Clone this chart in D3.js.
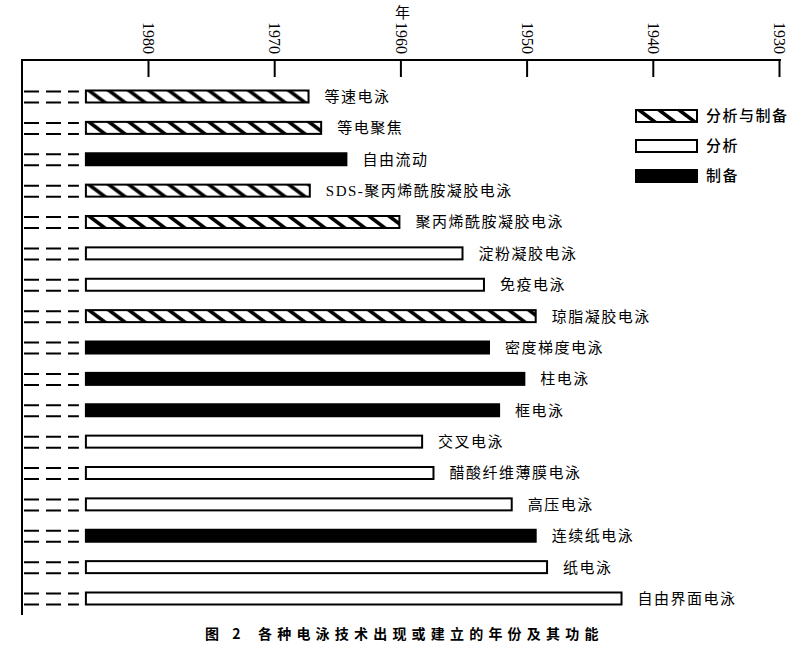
<!DOCTYPE html>
<html>
<head>
<meta charset="utf-8">
<script src="https://cdn.jsdelivr.net/npm/d3@7"></script>
<style>
body{margin:0;background:#fff;}
</style>
</head>
<body>
<div id="chart"></div>
<script>
//数据
var techs = [
    "等速电泳",
    "等电聚焦",
    "自由流动",
    "SDS-聚丙烯酰胺凝胶电泳",
    "聚丙烯酰胺凝胶电泳",
    "淀粉凝胶电泳",
    "免疫电泳",
    "琼脂凝胶电泳",
    "密度梯度电泳",
    "柱电泳",
    "框电泳",
    "交叉电泳",
    "醋酸纤维薄膜电泳",
    "高压电泳",
    "连续纸电泳",
    "纸电泳",
    "自由界面电泳"
]
var years = [1967.2,1966.2,1964.2,1967.1,1960,1955,1953.3,1949.2,1952.9,1950.1,1952.1,1958.2,1957.3,1951.1,1949.2,1948.3,1942.4]
var kinds = ["both","both","prep","both","both","anal","anal","both","prep","prep","prep","anal","anal","anal","prep","anal","anal"]
var legendKeys = ["both","anal","prep"]
var legendNames = ["分析与制备","分析","制备"]
var tickYears = [1980,1970,1960,1950,1940,1930]
var startYear = 1985

var width = 800
var height = 659
var axisY = 60
var leftX = 22
var barH = 12

var svg = d3.select("#chart")
    .append("svg")
    .attr("width",width)
    .attr("height",height)

//pattern 斜线
var defs = svg.append("defs")
var pat = defs.append("pattern")
    .attr("id","hatch")
    .attr("patternUnits","userSpaceOnUse")
    .attr("width",20)
    .attr("height",barH)
pat.append("rect").attr("width",20).attr("height",barH).attr("fill","#fff")
pat.append("polygon").attr("points","0,0 6,0 22,12 16,12").attr("fill","#000")
pat.append("polygon").attr("points","-20,0 -14,0 2,12 -4,12").attr("fill","#000")

//比例尺
var scaleX = d3.scaleLinear()
    .domain([1980,1930])
    .range([148,779])
var scaleY = d3.scalePoint()
    .domain(techs)
    .range([96.5,598.5])

function fillOf(k){
    if(k=="both") return "url(#hatch)";
    if(k=="prep") return "#000";
    return "#fff";
}

//坐标轴
var axis = d3.axisTop(scaleX)
    .tickValues(tickYears)
    .tickFormat(d3.format("d"))
    .tickSizeInner(-17)
    .tickSizeOuter(0)
var gAxis = svg.append("g")
    .attr("transform","translate(0,"+axisY+")")
    .call(axis)
gAxis.select(".domain").remove()
gAxis.selectAll(".tick line")
    .attr("stroke","#000")
    .attr("stroke-width",2)
gAxis.selectAll(".tick text")
    .attr("transform","rotate(90)")
    .attr("x",-38)
    .attr("y",0)
    .attr("dy","0.33em")
    .attr("text-anchor","start")
    .style("font-family","'Liberation Serif', serif")
    .style("font-size","16px")
    .attr("fill","#000")

svg.append("line")
    .attr("x1",leftX)
    .attr("x2",scaleX(1930)+2)
    .attr("y1",axisY)
    .attr("y2",axisY)
    .attr("stroke","#000")
    .attr("stroke-width",2)
svg.append("line")
    .attr("x1",leftX)
    .attr("x2",leftX)
    .attr("y1",axisY-1)
    .attr("y2",615)
    .attr("stroke","#000")
    .attr("stroke-width",2)

svg.append("text")
    .attr("x",scaleX(1960)+2)
    .attr("y",13)
    .attr("dy","0.35em")
    .attr("text-anchor","middle")
    .style("font-family","'Noto Sans CJK SC'")
    .style("font-size","15px")
    .text("年")

//行
var rows = svg.selectAll("g.row")
    .data(techs)
    .join("g")
    .attr("class","row")
    .attr("transform",d=>"translate(0,"+scaleY(d)+")")

//左侧虚线
rows.each(function(d,i){
    var g = d3.select(this)
    ;[-barH/2+1,barH/2].forEach(dy=>{
        g.append("line")
            .attr("x1",leftX+2)
            .attr("x2",scaleX(startYear)-6)
            .attr("y1",dy)
            .attr("y2",dy)
            .attr("stroke","#000")
            .attr("stroke-width",2)
            .attr("stroke-dasharray","15,7")
    })
})

//条 (边框在条内)
rows.append("g")
    .attr("transform","translate("+(scaleX(startYear)+1)+","+(-barH/2)+")")
    .append("rect")
    .attr("x",0)
    .attr("y",0)
    .attr("width",(d,i)=>scaleX(years[i])-scaleX(startYear)-2)
    .attr("height",barH)
    .attr("fill",(d,i)=>fillOf(kinds[i]))
    .attr("stroke","#000")
    .attr("stroke-width",2)

//标签
rows.append("text")
    .attr("x",(d,i)=>scaleX(years[i])+15)
    .attr("y",0)
    .attr("dy","0.36em")
    .style("font-family","'Liberation Serif','Noto Sans CJK SC'")
    .style("font-size","15px")
    .style("letter-spacing","1.5px")
    .text(d=>d)

//图例
var leg = svg.selectAll("g.leg")
    .data(legendKeys)
    .join("g")
    .attr("class","leg")
    .attr("transform",(d,i)=>"translate(636,"+(110+i*30)+")")
leg.append("rect")
    .attr("width",61)
    .attr("height",barH)
    .attr("fill",d=>fillOf(d))
    .attr("stroke","#000")
    .attr("stroke-width",2)
leg.append("text")
    .attr("x",70)
    .attr("y",barH/2)
    .attr("dy","0.36em")
    .style("font-family","'Noto Sans CJK SC'")
    .style("font-size","15px")
    .style("font-weight","500")
    .style("letter-spacing","1.5px")
    .text((d,i)=>legendNames[i])

//标题
svg.append("text")
    .attr("x",205)
    .attr("y",634)
    .attr("dy","0.36em")
    .style("font-family","'Noto Sans CJK SC'")
    .style("font-size","14px")
    .style("font-weight","bold")
    .style("letter-spacing","5px")
    .text("图 2")
svg.append("text")
    .attr("x",258)
    .attr("y",634)
    .attr("dy","0.36em")
    .style("font-family","'Noto Sans CJK SC'")
    .style("font-size","14px")
    .style("font-weight","bold")
    .style("letter-spacing","5.2px")
    .text("各种电泳技术出现或建立的年份及其功能")
</script>
</body>
</html>
